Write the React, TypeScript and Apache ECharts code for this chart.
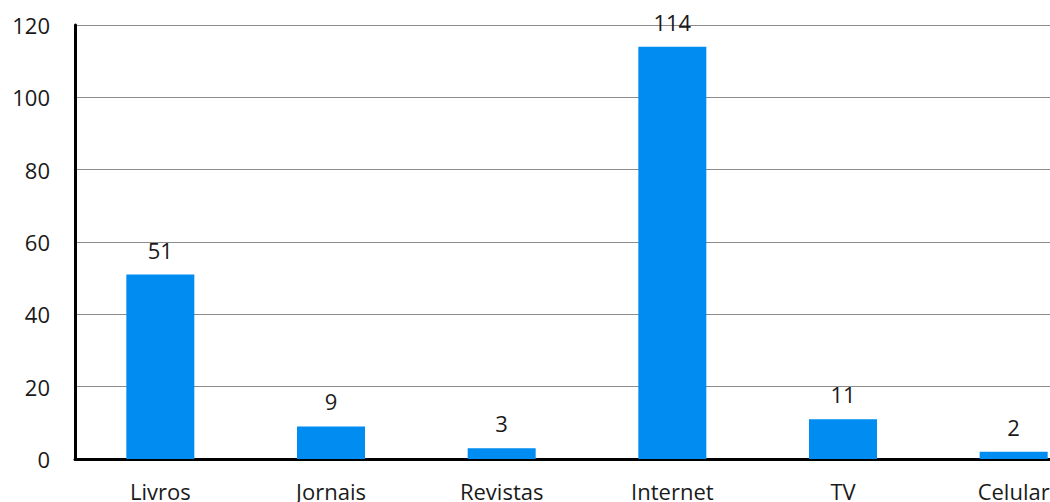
import React, { useEffect, useRef } from "react";
import * as echarts from "echarts";

const categories = ["Livros", "Jornais", "Revistas", "Internet", "TV", "Celular"];
const values = [51, 9, 3, 114, 11, 2];
const yTicks = { min: 0, max: 120, interval: 20 };

export default function App() {
  const ref = useRef<HTMLDivElement>(null);
  useEffect(() => {
    if (!ref.current) return;
    const chart = echarts.init(ref.current, null, { renderer: "svg" });
    const font = "'Open Sans', sans-serif";
    chart.setOption({
      animation: false,
      grid: { left: 75, top: 25, width: 1024, height: 434, containLabel: false },
      xAxis: {
        type: "category",
        data: categories,
        axisLine: { lineStyle: { color: "#000", width: 3 } },
        axisTick: { show: false },
        axisLabel: { color: "#1a1a1a", fontSize: 22, fontFamily: font, margin: 21 },
      },
      yAxis: {
        type: "value",
        min: yTicks.min,
        max: yTicks.max,
        interval: yTicks.interval,
        axisLine: { show: true, lineStyle: { color: "#000", width: 3 } },
        axisTick: { show: false },
        splitLine: { lineStyle: { color: "#8c8c8c", width: 1 } },
        axisLabel: { color: "#1a1a1a", fontSize: 22, fontFamily: font, margin: 25 },
      },
      series: [
        {
          type: "bar",
          data: values,
          barWidth: 68,
          itemStyle: { color: "#008cf0" },
          label: {
            show: true,
            position: "top",
            distance: 14,
            color: "#1a1a1a",
            fontSize: 22,
            fontFamily: font,
          },
        },
      ],
    });
    return () => chart.dispose();
  }, []);
  return (
    <div style={{ position: "fixed", left: 0, top: 0, width: 1050, height: 502, overflow: "hidden", background: "#fff" }}>
      <div ref={ref} style={{ width: 1110, height: 502 }} />
    </div>
  );
}
